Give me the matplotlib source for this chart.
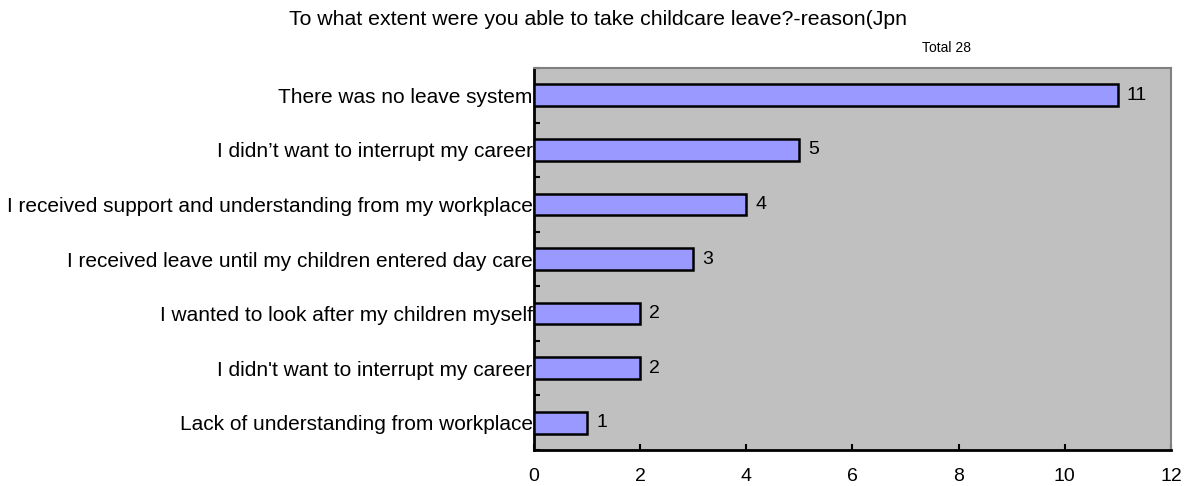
import matplotlib
matplotlib.use("Agg")
import matplotlib.pyplot as plt
import numpy as np

reasons = [
    "There was no leave system",
    "I didn\u2019t want to interrupt my career",
    "I received support and understanding from my workplace",
    "I received leave until my children entered day care",
    "I wanted to look after my children myself",
    "I didn't want to interrupt my career",
    "Lack of understanding from workplace",
]
counts = [11, 5, 4, 3, 2, 2, 1]
total = 28

plt.rcParams['font.family'] = ['Liberation Sans', 'DejaVu Sans']

fig = plt.figure(figsize=(11.99, 4.86), dpi=100)
ax = fig.add_axes([0.4454, 0.0741, 0.5312, 0.7859])
ax.set_facecolor('#c0c0c0')

y = np.arange(len(reasons))[::-1]
ax.barh(y, counts, height=0.4, color='#9999ff', edgecolor='black', linewidth=1.8, zorder=3)
for yi, c in zip(y, counts):
    ax.text(c + 0.17, yi, str(c), va='center', ha='left', fontsize=14)

ax.set_xlim(0, 12)
ax.set_ylim(-0.5, len(reasons) - 0.5)
ax.set_xticks(np.arange(0, 13, 2))
ax.set_yticks(y)
ax.set_yticklabels(reasons, fontsize=15)
ax.set_yticks(np.arange(-0.5, len(reasons), 1), minor=True)
ax.tick_params(axis='y', which='major', length=0, pad=1)
ax.tick_params(axis='y', which='minor', direction='in', length=4, width=1.5)
ax.tick_params(axis='x', direction='in', length=4, width=1.5, labelsize=14, pad=13)

for s in ['left', 'bottom']:
    ax.spines[s].set_linewidth(2)
    ax.spines[s].set_color('black')
for s in ['top', 'right']:
    ax.spines[s].set_linewidth(1.5)
    ax.spines[s].set_color('#808080')

fig.text(0.499, 0.959, "To what extent were you able to take childcare leave?-reason(Jpn",
         ha='center', va='center', fontsize=15.3)
fig.text(0.789, 0.901, "Total %d" % total, ha='center', va='center', fontsize=10)

plt.savefig('out.png', dpi=100)
